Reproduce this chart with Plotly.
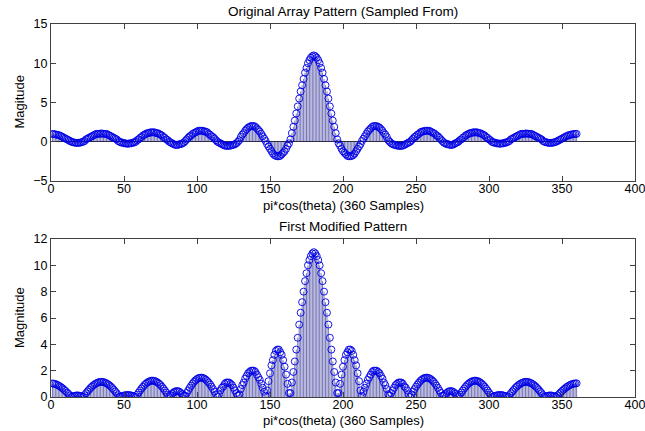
import plotly.graph_objects as go

# sample index (360 samples)
samples = list(range(1, 361))

# Original array pattern (top)
original = [
 0.99, 0.97, 0.94, 0.9, 0.85, 0.8, 0.7, 0.6, 0.5, 0.4,
 0.3, 0.2, 0.1, 0.0, -0.06, -0.11, -0.14, -0.15, -0.14, -0.11,
 -0.06, 0.0, 0.1, 0.3, 0.4, 0.5, 0.6, 0.7, 0.8, 0.9,
 1.0, 1.0, 1.0, 1.05, 1.05, 1.0, 1.0, 1.0, 0.9, 0.8,
 0.7, 0.6, 0.5, 0.4, 0.3, 0.1, 0.0, -0.1, -0.1, -0.2,
 -0.2, -0.25, -0.25, -0.2, -0.2, -0.1, -0.1, 0.0, 0.2, 0.3,
 0.5, 0.6, 0.8, 0.9, 1.0, 1.1, 1.1, 1.2, 1.2, 1.2,
 1.2, 1.1, 1.1, 1.0, 0.9, 0.8, 0.6, 0.5, 0.3, 0.2,
 0.0, -0.1, -0.2, -0.3, -0.4, -0.4, -0.4, -0.3, -0.3, -0.2,
 -0.1, 0.1, 0.3, 0.5, 0.7, 0.8, 1.0, 1.1, 1.2, 1.3,
 1.4, 1.4, 1.4, 1.4, 1.3, 1.3, 1.2, 1.0, 0.9, 0.7,
 0.6, 0.4, 0.2, 0.0, -0.1, -0.2, -0.3, -0.4, -0.5, -0.5,
 -0.55, -0.5, -0.5, -0.4, -0.4, -0.3, -0.2, 0.0, 0.2, 0.6,
 0.9, 1.1, 1.4, 1.6, 1.8, 1.9, 2.0, 2.0, 2.0, 1.9,
 1.7, 1.5, 1.3, 1.0, 0.7, 0.4, 0.1, -0.3, -0.6, -0.9,
 -1.2, -1.5, -1.7, -1.8, -1.85, -1.85, -1.8, -1.6, -1.4, -1.2,
 -0.9, -0.5, -0.2, 0.3, 1.1, 1.9, 2.7, 3.6, 4.5, 5.5,
 6.4, 7.2, 8.0, 8.8, 9.4, 10.0, 10.4, 10.7, 10.9, 11.0,
 10.9, 10.7, 10.4, 10.0, 9.4, 8.8, 8.0, 7.2, 6.4, 5.5,
 4.5, 3.6, 2.7, 1.9, 1.1, 0.3, -0.2, -0.5, -0.9, -1.2,
 -1.4, -1.6, -1.8, -1.85, -1.85, -1.8, -1.7, -1.5, -1.2, -0.9,
 -0.6, -0.3, 0.1, 0.4, 0.7, 1.0, 1.3, 1.5, 1.7, 1.9,
 2.0, 2.0, 2.0, 1.9, 1.8, 1.6, 1.4, 1.1, 0.9, 0.6,
 0.2, 0.0, -0.2, -0.3, -0.4, -0.4, -0.5, -0.5, -0.55, -0.5,
 -0.5, -0.4, -0.3, -0.2, -0.1, 0.0, 0.2, 0.4, 0.6, 0.7,
 0.9, 1.0, 1.2, 1.3, 1.3, 1.4, 1.4, 1.4, 1.4, 1.3,
 1.2, 1.1, 1.0, 0.8, 0.7, 0.5, 0.3, 0.1, -0.1, -0.2,
 -0.3, -0.3, -0.4, -0.4, -0.4, -0.3, -0.2, -0.1, 0.0, 0.2,
 0.3, 0.5, 0.6, 0.8, 0.9, 1.0, 1.1, 1.1, 1.2, 1.2,
 1.2, 1.2, 1.1, 1.1, 1.0, 0.9, 0.8, 0.6, 0.5, 0.3,
 0.2, 0.0, -0.1, -0.1, -0.2, -0.2, -0.25, -0.25, -0.2, -0.2,
 -0.1, -0.1, 0.0, 0.1, 0.3, 0.4, 0.5, 0.6, 0.7, 0.8,
 0.9, 1.0, 1.0, 1.0, 1.05, 1.05, 1.0, 1.0, 1.0, 0.9,
 0.8, 0.7, 0.6, 0.5, 0.4, 0.3, 0.1, 0.0, -0.06, -0.11,
 -0.14, -0.15, -0.14, -0.11, -0.06, 0.0, 0.1, 0.2, 0.3, 0.4,
 0.5, 0.6, 0.7, 0.8, 0.85, 0.9, 0.94, 0.97, 0.99, 1.0,
]

# First modified pattern (bottom)
modified = [
 1.03, 1.01, 0.98, 0.94, 0.88, 0.81, 0.74, 0.65, 0.55, 0.45,
 0.34, 0.23, 0.12, 0.0, 0.05, 0.08, 0.11, 0.12, 0.11, 0.08,
 0.05, 0.0, 0.14, 0.29, 0.42, 0.55, 0.68, 0.79, 0.89, 0.97,
 1.04, 1.09, 1.13, 1.15, 1.15, 1.13, 1.09, 1.04, 0.97, 0.89,
 0.79, 0.68, 0.55, 0.42, 0.29, 0.14, 0.0, 0.04, 0.08, 0.11,
 0.14, 0.15, 0.15, 0.14, 0.11, 0.08, 0.04, 0.0, 0.17, 0.33,
 0.49, 0.64, 0.78, 0.91, 1.01, 1.1, 1.17, 1.21, 1.24, 1.24,
 1.21, 1.17, 1.1, 1.01, 0.91, 0.78, 0.64, 0.49, 0.33, 0.17,
 0.0, 0.13, 0.25, 0.35, 0.42, 0.45, 0.44, 0.4, 0.3, 0.2,
 0.1, 0.1, 0.31, 0.5, 0.69, 0.86, 1.02, 1.16, 1.27, 1.36,
 1.43, 1.46, 1.47, 1.45, 1.4, 1.32, 1.22, 1.09, 0.95, 0.78,
 0.6, 0.41, 0.2, 0.0, 0.2, 0.5, 0.7, 0.8, 1.0, 1.1,
 1.1, 1.1, 1.0, 0.9, 0.7, 0.5, 0.3, 0.1, 0.2, 0.6,
 0.9, 1.1, 1.4, 1.6, 1.8, 1.9, 2.0, 2.0, 2.0, 1.9,
 1.7, 1.5, 1.3, 1.0, 0.7, 0.4, 0.1, 0.5, 1.2, 1.8,
 2.4, 2.8, 3.2, 3.5, 3.6, 3.6, 3.4, 3.2, 2.8, 2.3,
 1.7, 1.0, 0.3, 0.3, 1.1, 1.9, 2.7, 3.6, 4.5, 5.5,
 6.4, 7.2, 8.0, 8.8, 9.4, 10.0, 10.4, 10.7, 10.9, 11.0,
 10.9, 10.7, 10.4, 10.0, 9.4, 8.8, 8.0, 7.2, 6.4, 5.5,
 4.5, 3.6, 2.7, 1.9, 1.1, 0.3, 0.3, 1.0, 1.7, 2.3,
 2.8, 3.2, 3.4, 3.6, 3.6, 3.5, 3.2, 2.8, 2.4, 1.8,
 1.2, 0.5, 0.1, 0.4, 0.7, 1.0, 1.3, 1.5, 1.7, 1.9,
 2.0, 2.0, 2.0, 1.9, 1.8, 1.6, 1.4, 1.1, 0.9, 0.6,
 0.2, 0.1, 0.3, 0.5, 0.7, 0.9, 1.0, 1.1, 1.1, 1.1,
 1.0, 0.8, 0.7, 0.5, 0.2, 0.0, 0.2, 0.41, 0.6, 0.78,
 0.95, 1.09, 1.22, 1.32, 1.4, 1.45, 1.47, 1.46, 1.43, 1.36,
 1.27, 1.16, 1.02, 0.86, 0.69, 0.5, 0.31, 0.1, 0.1, 0.2,
 0.3, 0.4, 0.44, 0.45, 0.42, 0.35, 0.25, 0.13, 0.0, 0.17,
 0.33, 0.49, 0.64, 0.78, 0.91, 1.01, 1.1, 1.17, 1.21, 1.24,
 1.24, 1.21, 1.17, 1.1, 1.01, 0.91, 0.78, 0.64, 0.49, 0.33,
 0.17, 0.0, 0.04, 0.08, 0.11, 0.14, 0.15, 0.15, 0.14, 0.11,
 0.08, 0.04, 0.0, 0.14, 0.29, 0.42, 0.55, 0.68, 0.79, 0.89,
 0.97, 1.04, 1.09, 1.13, 1.15, 1.15, 1.13, 1.09, 1.04, 0.97,
 0.89, 0.79, 0.68, 0.55, 0.42, 0.29, 0.14, 0.0, 0.05, 0.08,
 0.11, 0.12, 0.11, 0.08, 0.05, 0.0, 0.12, 0.23, 0.34, 0.45,
 0.55, 0.65, 0.74, 0.81, 0.88, 0.94, 0.98, 1.01, 1.03, 1.04,
]

titles = ["Original Array Pattern (Sampled From)", "First Modified Pattern"]
xlabel = "pi*cos(theta) (360 Samples)"
ylabels = ["Magitude", "Magnitude"]

W, H = 645, 431
FONT = "Liberation Sans, Arial, sans-serif"
STEM = "rgba(30,30,140,0.6)"
MARK = "rgb(0,0,230)"

fig = go.Figure()


def stems(xs, ys):
    sx, sy = [], []
    for a, b in zip(xs, ys):
        sx += [a, a, None]
        sy += [0, b, None]
    return sx, sy


for i, (vals, xa, ya) in enumerate([(original, "x", "y"), (modified, "x2", "y2")]):
    sx, sy = stems(samples, vals)
    fig.add_trace(go.Scatter(x=sx, y=sy, mode="lines", xaxis=xa, yaxis=ya,
                             line=dict(color=STEM, width=1), hoverinfo="skip",
                             showlegend=False))
    fig.add_trace(go.Scatter(x=samples, y=vals, mode="markers", xaxis=xa, yaxis=ya,
                             marker=dict(symbol="circle-open", size=7, color=MARK,
                                         line=dict(width=0.9, color=MARK)),
                             showlegend=False))

# axis boxes in pixels (left, right, top, bottom)
top_box = (51, 635, 24, 181)
bot_box = (51, 635, 239, 397)


def xd(b):
    return [b[0] / W, b[1] / W]


def yd(b):
    return [1 - b[3] / H, 1 - b[2] / H]


axis_common = dict(showline=True, linecolor="#404040", linewidth=1, mirror="ticks",
                   ticks="inside", ticklen=5, tickcolor="#404040", showgrid=False,
                   ticklabeloverflow="allow", automargin=False,
                   tickfont=dict(family=FONT, size=12.5, color="black"))
xticks = [0, 50, 100, 150, 200, 250, 300, 350, 400]

fig.update_layout(
    width=W, height=H, margin=dict(l=0, r=0, t=0, b=0, autoexpand=False),
    paper_bgcolor="white", plot_bgcolor="white", showlegend=False,
    xaxis=dict(domain=xd(top_box), range=[0, 400], tickvals=xticks,
               zeroline=False, anchor="y", ticklabelstandoff=-4, **axis_common),
    yaxis=dict(domain=yd(top_box), range=[-5, 15], tickvals=[-5, 0, 5, 10, 15],
               zeroline=True, zerolinecolor="#303030", zerolinewidth=1, anchor="x", **axis_common),
    xaxis2=dict(domain=xd(bot_box), range=[0, 400], tickvals=xticks,
                zeroline=False, anchor="y2", ticklabelstandoff=-4, **axis_common),
    yaxis2=dict(domain=yd(bot_box), range=[0, 12], tickvals=[0, 2, 4, 6, 8, 10, 12],
                zeroline=False, anchor="x2", **axis_common),
)

ann = []
cx = (top_box[0] + top_box[1]) / 2 / W
for title, ty in zip(titles, [12, 227]):
    ann.append(dict(text=title, x=cx, y=1 - ty / H, xref="paper", yref="paper",
                    showarrow=False, xanchor="center", yanchor="middle",
                    font=dict(family=FONT, size=13.5, color="black")))
for ly in [205, 420]:
    ann.append(dict(text=xlabel, x=cx, y=1 - ly / H, xref="paper", yref="paper",
                    showarrow=False, xanchor="center", yanchor="middle",
                    font=dict(family=FONT, size=13, color="black")))
for lab, b in zip(ylabels, [top_box, bot_box]):
    ann.append(dict(text=lab, x=19 / W, y=1 - (b[2] + b[3]) / 2 / H, xref="paper", yref="paper",
                    showarrow=False, xanchor="center", yanchor="middle", textangle=-90,
                    font=dict(family=FONT, size=13, color="black")))
fig.update_layout(annotations=ann)

fig.write_html("out.html")
